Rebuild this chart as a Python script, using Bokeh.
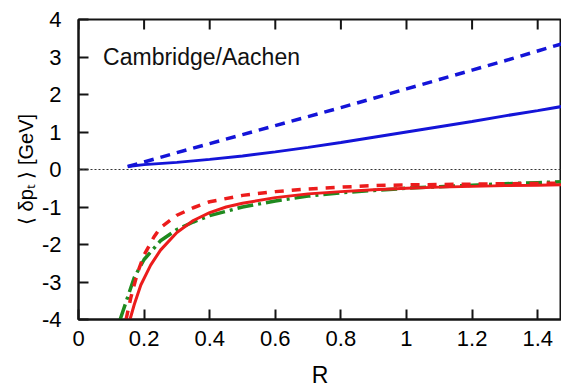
from bokeh.plotting import figure
from bokeh.models import Range1d, FixedTicker, Span, Label
from bokeh.embed import file_html
from bokeh.resources import INLINE

# --- data: mean pt shift vs jet radius R ---
r_blue = [0.15, 0.2, 0.3, 0.4, 0.5, 0.6, 0.7, 0.8, 0.9, 1.0, 1.1, 1.2, 1.3, 1.4, 1.5]
blue_solid = [0.08, 0.13, 0.19, 0.27, 0.36, 0.47, 0.59, 0.72, 0.86, 1.0, 1.14, 1.28, 1.43, 1.57, 1.72]
blue_dashed = [0.08, 0.20, 0.45, 0.69, 0.93, 1.17, 1.41, 1.65, 1.90, 2.15, 2.40, 2.65, 2.90, 3.16, 3.42]

r_red_solid = [0.157, 0.17, 0.19, 0.22, 0.25, 0.3, 0.35, 0.4, 0.45, 0.5, 0.6, 0.7,
               0.8, 0.9, 1.0, 1.1, 1.2, 1.3, 1.4, 1.5]
red_solid = [-4.0, -3.6, -3.08, -2.55, -2.15, -1.68, -1.36, -1.15, -1.0, -0.9, -0.75, -0.65,
             -0.59, -0.54, -0.5, -0.47, -0.45, -0.43, -0.42, -0.40]

r_red_dashed = [0.145, 0.16, 0.18, 0.2, 0.23, 0.25, 0.3, 0.35, 0.4, 0.5, 0.6, 0.7, 0.8,
                0.9, 1.0, 1.2, 1.4, 1.5]
red_dashed = [-4.0, -3.4, -2.75, -2.28, -1.8, -1.55, -1.22, -1.02, -0.86, -0.69, -0.59, -0.52,
              -0.47, -0.43, -0.41, -0.39, -0.37, -0.36]

r_green = [0.127, 0.15, 0.17, 0.2, 0.25, 0.3, 0.35, 0.4, 0.5, 0.6, 0.7, 0.8, 0.9, 1.0,
           1.1, 1.2, 1.3, 1.4, 1.5]
green_dashdot = [-4.0, -3.4, -2.88, -2.4, -1.9, -1.6, -1.4, -1.23, -1.0, -0.84, -0.71, -0.62,
                 -0.56, -0.5, -0.46, -0.42, -0.38, -0.35, -0.32]

x_ticks = [0, 0.2, 0.4, 0.6, 0.8, 1.0, 1.2, 1.4]
x_tick_labels = ["0", "0.2", "0.4", "0.6", "0.8", "1", "1.2", "1.4"]
y_ticks = [-4, -3, -2, -1, 0, 1, 2, 3, 4]
y_tick_labels = ["-4", "-3", "-2", "-1", "0", "1", "2", "3", "4"]

FONT = "Liberation Sans"
BLUE = "#1414d8"
RED = "#ec1c1c"
GREEN = "#1f8a1f"
INK = "#141414"

p = figure(width=561, height=390, output_backend="svg", toolbar_location=None,
           x_range=Range1d(0, 1.4726), y_range=Range1d(-4, 4),
           min_border_left=78, min_border_top=19, min_border_right=0,
           min_border_bottom=70, x_axis_label="R",
           y_axis_label="\u27e8 \u03b4p\u209c \u27e9 [GeV]")
p.outline_line_color = INK
p.outline_line_width = 2
p.grid.visible = False

# zero reference line
p.add_layout(Span(location=0, dimension="width", line_color="#333333",
                  line_width=1, line_dash="2 2"))

p.line(r_blue, blue_dashed, line_color=BLUE, line_width=3.5, line_dash="10 7")
p.line(r_blue, blue_solid, line_color=BLUE, line_width=3)
p.line(r_green, green_dashdot, line_color=GREEN, line_width=3.5, line_dash="16 5 3 5")
p.line(r_red_solid, red_solid, line_color=RED, line_width=3)
p.line(r_red_dashed, red_dashed, line_color=RED, line_width=3.5, line_dash="9 8")


def style_axis(ax, ticks):
    ax.ticker = FixedTicker(ticks=ticks)
    ax.minor_tick_line_color = None
    ax.major_tick_line_color = INK
    ax.major_tick_line_width = 2
    ax.axis_line_color = INK
    ax.axis_line_width = 2
    ax.major_tick_in = 10
    ax.major_tick_out = 0
    ax.major_label_text_font = FONT
    ax.major_label_text_font_size = "22px"
    ax.major_label_text_color = "black"
    ax.axis_label_text_font = FONT
    ax.axis_label_text_font_style = "normal"
    ax.axis_label_text_color = "black"


xb = p.xaxis[0]
style_axis(xb, x_ticks)
xb.major_label_overrides = {t: s for t, s in zip(x_ticks, x_tick_labels)}
xb.major_label_standoff = 11
xb.axis_label_text_font_size = "23px"
xb.axis_label_standoff = 13

yl = p.yaxis[0]
style_axis(yl, y_ticks)
yl.major_label_overrides = {t: s for t, s in zip(y_ticks, y_tick_labels)}
yl.major_label_standoff = 17
yl.axis_label_text_font_size = "20px"
yl.axis_label_standoff = 2

# mirrored tick marks on the top edge
nx = len(x_ticks)
p.ray(x=x_ticks, y=[4] * nx, length=10, length_units="screen", angle=-90,
      angle_units="deg", line_color=INK, line_width=2)

p.add_layout(Label(x=0.075, y=2.99, text="Cambridge/Aachen", text_font=FONT,
                   text_font_size="23px", text_color="#111111",
                   text_baseline="alphabetic"))

open("out.html", "w").write(file_html(p, INLINE))
